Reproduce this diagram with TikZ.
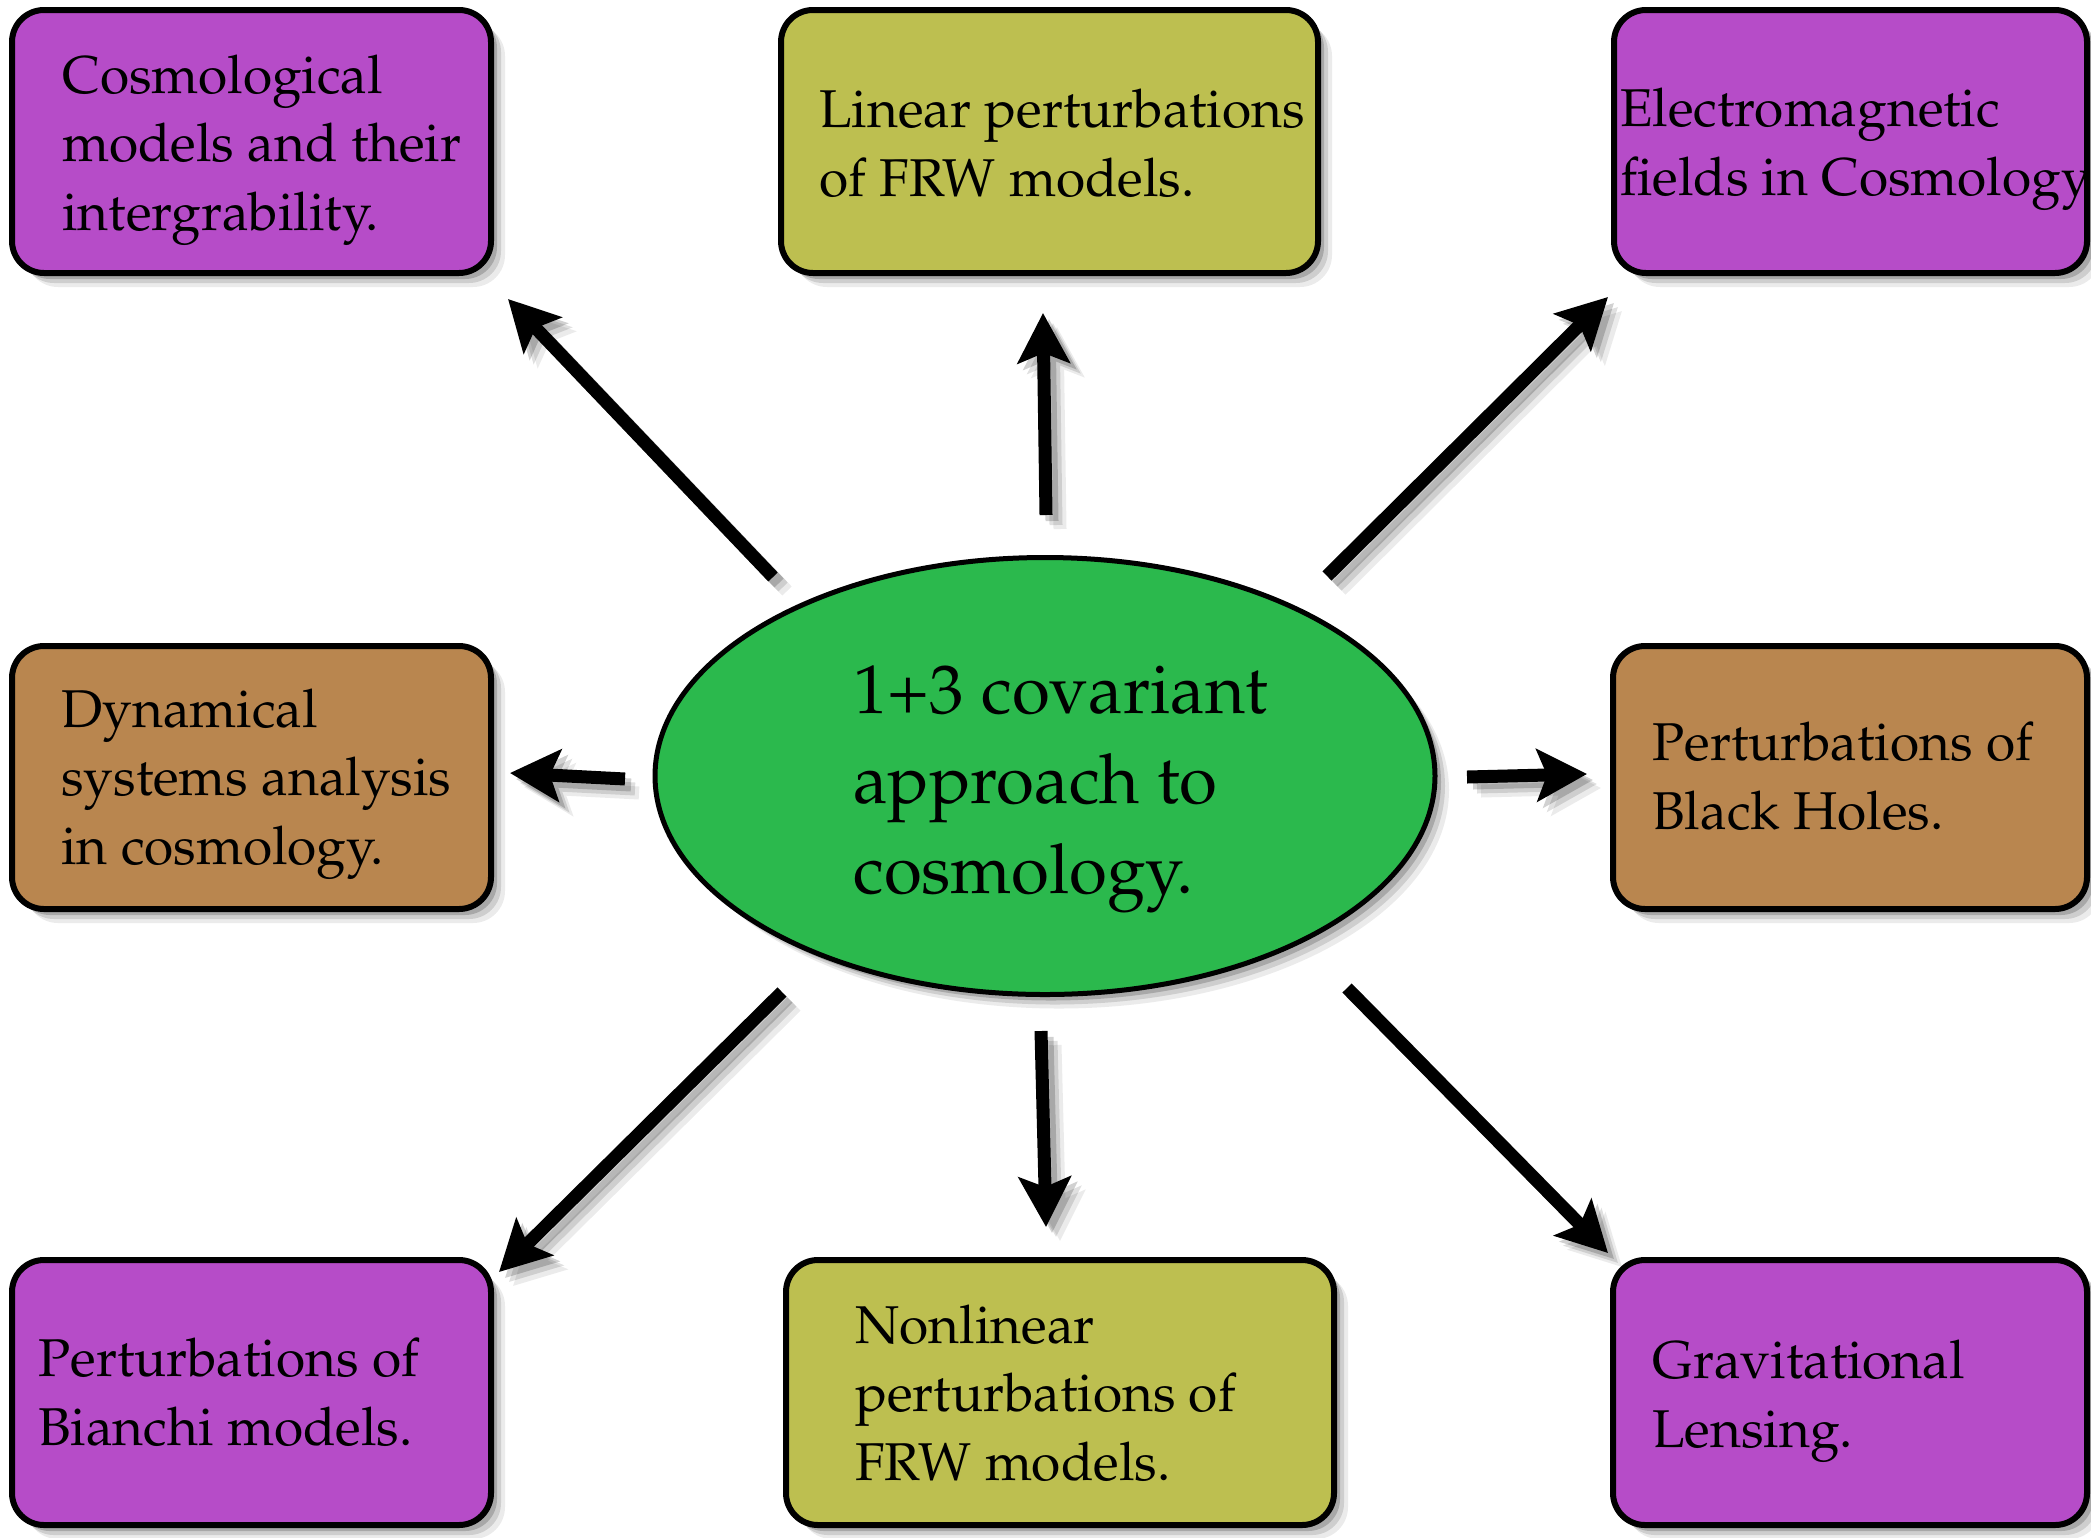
\documentclass[tikz,border=0pt]{standalone}
\usepackage[T1]{fontenc}
\usepackage{mathpazo}
\usetikzlibrary{arrows.meta,shapes.geometric}
\definecolor{cPurple}{HTML}{B64CC8}
\definecolor{cOlive}{HTML}{BDBF50}
\definecolor{cBrown}{HTML}{B9864F}
\definecolor{cGreen}{HTML}{2BB94D}
\newcommand\boxfont{\fontsize{26.6pt}{34.25pt}\selectfont}
\newcommand\ellfont{\fontsize{34.5pt}{45pt}\selectfont}
\tikzset{
  softshadow/.style={
    preaction={fill=black, opacity=0.08, transform canvas={shift={(7pt,-7pt)}}},
    preaction={fill=black, opacity=0.12, transform canvas={shift={(5pt,-5pt)}}},
    preaction={fill=black, opacity=0.18, transform canvas={shift={(3pt,-3pt)}}}},
  topicbox/.style={draw=black, line width=3pt, rounded corners=16pt, inner sep=0pt, softshadow},
  centreell/.style={ellipse, draw=black, line width=2.5pt, inner sep=0pt, fill=cGreen, softshadow},
  txt/.style={anchor=base west, inner sep=0pt, align=left, font=\boxfont},
  arr/.style={line width=6.5pt, -{Stealth[length=25pt,width=26pt,inset=5pt]}},
}
\begin{document}
\begin{tikzpicture}[x={(0.5pt,0)}, y={(0,-0.5pt)}]
\fill[white] (0,0) rectangle (2091,1537);
\useasboundingbox (0,0) rectangle (2091,1537);

% boxes
\node[topicbox, fill=cPurple, minimum width=239.5pt, minimum height=131.5pt] (b1) at (251.5,141.5) {};
\node[topicbox, fill=cOlive,  minimum width=268.5pt, minimum height=131.5pt] (b2) at (1049.5,141.5) {};
\node[topicbox, fill=cPurple, minimum width=236.5pt, minimum height=131.5pt] (b3) at (1850.5,141.5) {};
\node[topicbox, fill=cBrown,  minimum width=239.5pt, minimum height=131.5pt] (b4) at (251.5,777.5) {};
\node[topicbox, fill=cBrown,  minimum width=237pt,   minimum height=131.5pt] (b5) at (1850,777.5) {};
\node[topicbox, fill=cPurple, minimum width=239.5pt, minimum height=132.5pt] (b6) at (251.5,1392.5) {};
\node[topicbox, fill=cOlive,  minimum width=274pt,   minimum height=132.5pt] (b7) at (1060,1392.5) {};
\node[topicbox, fill=cPurple, minimum width=237pt,   minimum height=132.5pt] (b8) at (1850,1392.5) {};

% centre
\node[centreell, minimum width=390pt, minimum height=218.5pt] (c) at (1045,776) {};

% texts (anchored at the baseline of the last line)
\node[txt] (t1) at (62,230) {Cosmological\\models and their\\intergrability.};
\node[txt] (t2) at (819,196) {Linear perturbations\\of FRW models.};
\node[txt] (t3) at (1620,195) {Electromagnetic\\fields in Cosmology};
\node[txt] (t4) at (61,864) {Dynamical\\systems analysis\\in cosmology.};
\node[txt] (t5) at (1652,829) {Perturbations of\\Black Holes.};
\node[txt] (t6) at (38,1445) {Perturbations of\\Bianchi models.};
\node[txt] (t7) at (855,1480) {Nonlinear\\perturbations of\\FRW models.};
\node[txt] (t8) at (1652,1447) {Gravitational\\Lensing.};
\node[txt, font=\ellfont] (tc) at (853,893) {1+3 covariant\\approach to\\cosmology.};

% arrow end points
\coordinate (a1s) at (773,577);  \coordinate (a1e) at (508,299);
\coordinate (a2s) at (1046,515); \coordinate (a2e) at (1043,313);
\coordinate (a3s) at (1327,576); \coordinate (a3e) at (1608,297);
\coordinate (a4s) at (625,779);  \coordinate (a4e) at (510,773);
\coordinate (a5s) at (1467,777); \coordinate (a5e) at (1587,774);
\coordinate (a6s) at (782,992);  \coordinate (a6e) at (499,1272);
\coordinate (a7s) at (1041,1031);\coordinate (a7e) at (1046,1227);
\coordinate (a8s) at (1347,988); \coordinate (a8e) at (1608,1253);

% arrow shadows
\foreach \sh/\op in {7pt/0.08, 5pt/0.12, 3pt/0.18}{
  \begin{scope}[transparency group, opacity=\op]
    \foreach \s/\e in {a1s/a1e,a2s/a2e,a3s/a3e,a4s/a4e,a5s/a5e,a6s/a6e,a7s/a7e,a8s/a8e}
      \draw[arr, black, transform canvas={shift={(\sh,-\sh)}}] (\s) -- (\e);
  \end{scope}
}
% arrows
\foreach \s/\e in {a1s/a1e,a2s/a2e,a3s/a3e,a4s/a4e,a5s/a5e,a6s/a6e,a7s/a7e,a8s/a8e}
  \draw[arr] (\s) -- (\e);
\end{tikzpicture}
\end{document}
